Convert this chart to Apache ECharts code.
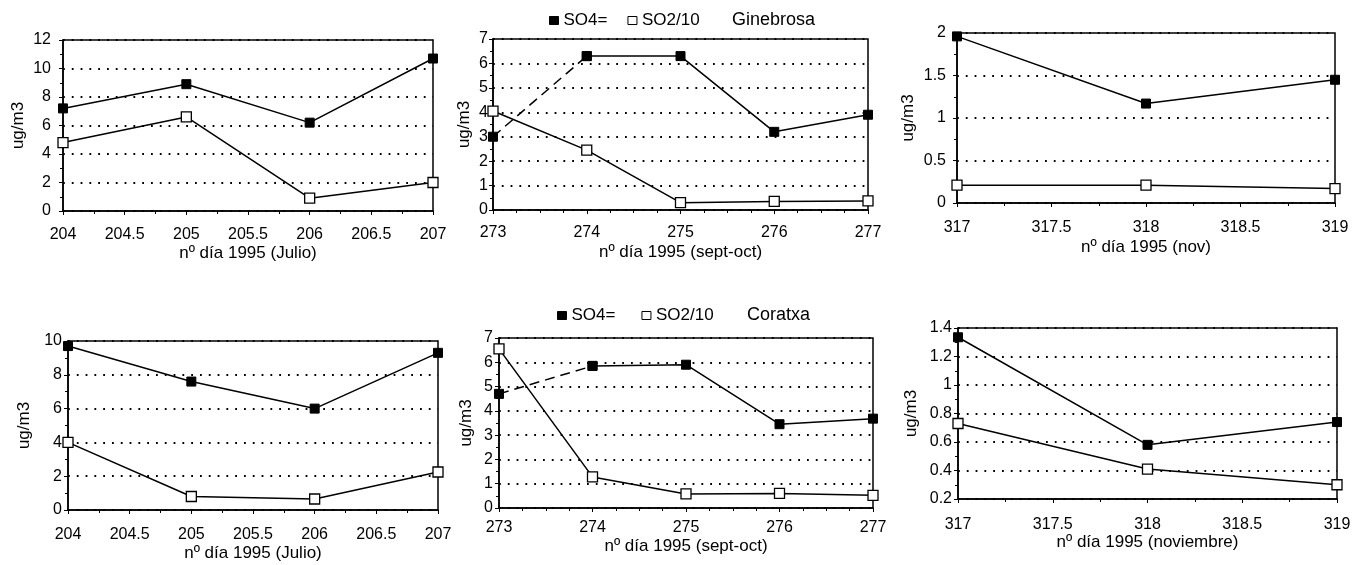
<!DOCTYPE html>
<html>
<head>
<meta charset="utf-8">
<style>
  html, body { margin: 0; padding: 0; background: #fff; }
  #chart-container { width: 1361px; height: 565px; }
</style>
<script src="https://cdn.jsdelivr.net/npm/echarts@6/dist/echarts.min.js"></script>
</head>
<body>
<div id="chart-container"></div>
<script>
var dom = document.getElementById("chart-container");
var myChart = echarts.init(dom, null, { renderer: "canvas" });

// days of year 1995
var daysJul = [204, 205, 206, 207];
var daysSep = [273, 274, 275, 276, 277];
var daysNov = [317, 318, 319];

// Ginebrosa (top row)
var gineSO4Jul = [7.2, 8.9, 6.2, 10.7];
var gineSO2Jul = [4.8, 6.6, 0.9, 2.0];
var gineSO4Sep = [3.0, 6.3, 6.3, 3.2, 3.9];
var gineSO2Sep = [4.05, 2.45, 0.3, 0.35, 0.37];
var gineSO4Nov = [1.96, 1.17, 1.45];
var gineSO2Nov = [0.21, 0.21, 0.17];

// Coratxa (bottom row)
var corSO4Jul = [9.7, 7.6, 6.0, 9.3];
var corSO2Jul = [4.0, 0.8, 0.65, 2.25];
var corSO4Sep = [4.7, 5.85, 5.9, 3.45, 3.68];
var corSO2Sep = [6.55, 1.28, 0.58, 0.6, 0.52];
var corSO4Nov = [1.335, 0.58, 0.74];
var corSO2Nov = [0.73, 0.41, 0.3];

var FONT = "Liberation Sans";

// panel layout: grid box + axis settings
var panels = [
  { grid: [63, 40, 370, 171], days: daysJul, so4: gineSO4Jul, so2: gineSO2Jul, xmin: 204, xmax: 207, xint: 0.5, ymin: 0, ymax: 12, yint: 2, xname: "nº día 1995 (Julio)", yGap: 36, xGap: 34, xMargin: 16, yMargin: 12, dashed: false },
  { grid: [493, 39, 375, 171], days: daysSep, so4: gineSO4Sep, so2: gineSO2Sep, xmin: 273, xmax: 277, xint: 1, ymin: 0, ymax: 7, yint: 1, xname: "nº día 1995 (sept-oct)", yGap: 20, xGap: 34, xMargin: 15, yMargin: 5, dashed: true },
  { grid: [957, 33, 378, 170], days: daysNov, so4: gineSO4Nov, so2: gineSO2Nov, xmin: 317, xmax: 319, xint: 0.5, ymin: 0, ymax: 2, yint: 0.5, xname: "nº día 1995 (nov)", yGap: 40, xGap: 36, xMargin: 17, yMargin: 11, dashed: false },
  { grid: [68, 341, 370, 169], days: daysJul, so4: corSO4Jul, so2: corSO2Jul, xmin: 204, xmax: 207, xint: 0.5, ymin: 0, ymax: 10, yint: 2, xname: "nº día 1995 (Julio)", yGap: 35, xGap: 35, xMargin: 17, yMargin: 6, dashed: false },
  { grid: [499, 338, 374, 170], days: daysSep, so4: corSO4Sep, so2: corSO2Sep, xmin: 273, xmax: 277, xint: 1, ymin: 0, ymax: 7, yint: 1, xname: "nº día 1995 (sept-oct)", yGap: 24, xGap: 30, xMargin: 12, yMargin: 6, dashed: true },
  { grid: [958, 328, 379, 171], days: daysNov, so4: corSO4Nov, so2: corSO2Nov, xmin: 317, xmax: 319, xint: 0.5, ymin: 0.2, ymax: 1.4, yint: 0.2, xname: "nº día 1995 (noviembre)", yGap: 38, xGap: 35, xMargin: 18, yMargin: 6, dashed: false }
];

function pairs(xs, ys) {
  return xs.map(function (x, i) { return [x, ys[i]]; });
}

var grids = [], xAxes = [], yAxes = [], series = [];

var so4Style = { color: "#000", borderColor: "#000", borderWidth: 1 };
var so2Style = { color: "#fff", borderColor: "#000", borderWidth: 1.3 };

panels.forEach(function (p, i) {
  grids.push({
    left: p.grid[0], top: p.grid[1], width: p.grid[2], height: p.grid[3],
    show: true, borderColor: "#000", borderWidth: 1.5, backgroundColor: "transparent"
  });
  xAxes.push({
    type: "value", gridIndex: i, min: p.xmin, max: p.xmax, interval: p.xint,
    name: p.xname, nameLocation: "middle", nameGap: p.xGap,
    nameTextStyle: { fontFamily: FONT, fontSize: 17, color: "#000" },
    axisLine: { lineStyle: { color: "#000", width: 1.5 } },
    axisTick: { length: 4, lineStyle: { color: "#000" } },
    minorTick: { show: true, splitNumber: p.xint === 1 ? 4 : 2, length: 3, lineStyle: { color: "#000" } },
    axisLabel: { fontFamily: FONT, fontSize: 16, color: "#000", margin: p.xMargin },
    splitLine: { show: false }
  });
  yAxes.push({
    type: "value", gridIndex: i, min: p.ymin, max: p.ymax, interval: p.yint,
    name: "ug/m3", nameLocation: "middle", nameGap: p.yGap, nameRotate: 90,
    nameTextStyle: { fontFamily: FONT, fontSize: 17, color: "#000" },
    axisLine: { show: true, lineStyle: { color: "#000", width: 1.5 } },
    axisTick: { show: true, length: 4, lineStyle: { color: "#000" } },
    minorTick: { show: true, splitNumber: 2, length: 3, lineStyle: { color: "#000" } },
    axisLabel: { fontFamily: FONT, fontSize: 16, color: "#000", margin: p.yMargin },
    splitLine: { show: true, lineStyle: { color: "#000", width: 1.8, type: [1.8, 7] } }
  });

  var so4 = pairs(p.days, p.so4);
  var so2 = pairs(p.days, p.so2);

  if (p.dashed) {
    // first segment of SO4 is drawn dashed
    series.push({
      name: "SO4= tramo", type: "line", xAxisIndex: i, yAxisIndex: i,
      data: so4.slice(0, 2), symbol: "rect", symbolSize: 9, itemStyle: so4Style,
      lineStyle: { color: "#000", width: 1.5, type: [10, 6] }, z: 3
    });
    so4 = so4.slice(1);
  }
  series.push({
    name: "SO4=", type: "line", xAxisIndex: i, yAxisIndex: i,
    data: so4, symbol: "rect", symbolSize: 9, itemStyle: so4Style,
    lineStyle: { color: "#000", width: 1.5 }, z: 3
  });
  series.push({
    name: "SO2/10", type: "line", xAxisIndex: i, yAxisIndex: i,
    data: so2, symbol: "rect", symbolSize: 10, itemStyle: so2Style,
    lineStyle: { color: "#000", width: 1.5 }, z: 4
  });
});

var legendData = [
  { name: "SO4=", icon: "rect", itemStyle: { color: "#000", borderColor: "#000", borderWidth: 1 } },
  { name: "SO2/10", icon: "rect", itemStyle: { color: "#fff", borderColor: "#000", borderWidth: 1 } }
];
var legendBase = {
  data: legendData, itemWidth: 9, itemHeight: 8, itemGap: 20,
  textStyle: { fontFamily: FONT, fontSize: 17, color: "#000" },
  selectedMode: false
};

var option = {
  backgroundColor: "#fff",
  animation: false,
  title: [
    { text: "Ginebrosa", left: 727, top: 6, textStyle: { fontFamily: FONT, fontSize: 18, fontWeight: "normal", color: "#000" } },
    { text: "Coratxa", left: 742, top: 301, textStyle: { fontFamily: FONT, fontSize: 18, fontWeight: "normal", color: "#000" } }
  ],
  legend: [
    Object.assign({}, legendBase, { left: 544, top: 7 }),
    Object.assign({}, legendBase, { left: 552, top: 302, itemGap: 26 })
  ],
  grid: grids,
  xAxis: xAxes,
  yAxis: yAxes,
  series: series
};

myChart.setOption(option);

window.addEventListener("resize", myChart.resize);
</script>
</body>
</html>
